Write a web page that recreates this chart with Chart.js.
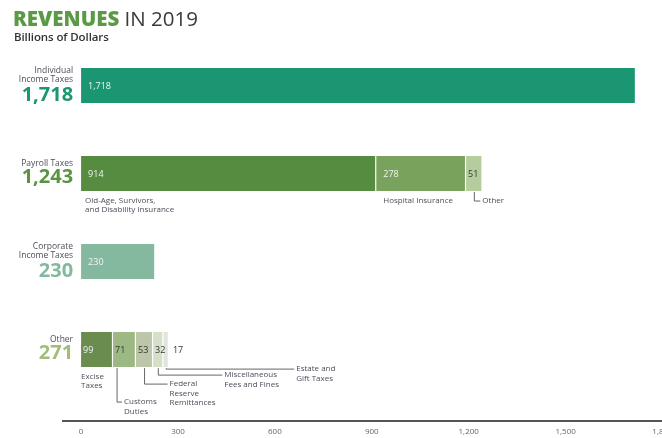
<!DOCTYPE html>
<html lang="en">

<head>
    <meta charset="UTF-8">
    <title>Revenues in 2019</title>
    <!-- Import Chart.js -->
    <script src="https://cdn.jsdelivr.net/npm/chart.js"></script>
    <style>
        body { margin: 0; overflow: hidden; background: #fff; font-family: 'Open Sans', sans-serif; }
        .title { position: absolute; left: 13px; top: 5px; line-height: 27px; font-size: 20.5px; color: #3a3a3a; white-space: nowrap; }
        .title b { color: #5a9a46; font-weight: 800; }
        .subtitle { position: absolute; left: 14px; top: 29px; line-height: 16px; font-size: 11.5px; font-weight: 600; color: #333; white-space: nowrap; letter-spacing: -0.1px; }
        #chart-wrap { position: absolute; left: 0; top: 0; width: 690px; height: 444px; }
    </style>
</head>

<body>
    <div id="chart-wrap">
        <canvas id="revenue-chart" width="690" height="444"></canvas>
    </div>
    <div class="title"><b>REVENUES</b> IN 2019</div>
    <div class="subtitle">Billions of Dollars</div>

    <script>
        // revenue groups, billions of dollars
        const groupLabels = [['Individual', 'Income Taxes'], ['Payroll Taxes'], ['Corporate', 'Income Taxes'], ['Other']];
        const groupTotals = [1718, 1243, 230, 271];

        const individualParts = [1718];
        const payrollParts = [914, 278, 51];
        const corporateParts = [230];
        const otherParts = [99, 71, 53, 32, 17];

        const payrollNames = [['Old-Age, Survivors,', 'and Disability Insurance'], ['Hospital Insurance'], ['Other']];
        const otherNames = [['Excise', 'Taxes'], ['Customs', 'Duties'], ['Federal', 'Reserve', 'Remittances'],
            ['Miscellaneous', 'Fees and Fines'], ['Estate and', 'Gift Taxes']];

        const xTicks = [0, 300, 600, 900, 1200, 1500, 1800];

        // colours
        const groupColors = ['#1b9672', '#5b9341', '#84b99f', '#a2bd78'];
        const partColors = [
            ['#1b9672'],
            ['#558c3f', '#79a25c', '#b3cd9d'],
            ['#84b99f'],
            ['#6a8d4f', '#9cb883', '#bcc6a8', '#d6e0c8', '#e2e5dc']
        ];
        const darkText = ['#b3cd9d', '#9cb883', '#bcc6a8', '#d6e0c8', '#e2e5dc'];

        // callout placement below the bars: dx = plain label offset, drop/run = leader line
        const payrollCallouts = [{ dx: 4 }, { dx: 7 }, { drop: 10, run: 6 }];
        const otherCallouts = [{ dx: 0 }, { drop: 35, run: 5, at: 4 }, { drop: 17, run: 23 }, { drop: 8, run: 64 }, { drop: 2, run: 128 }];

        const rows = [individualParts, payrollParts, corporateParts, otherParts];
        const points = [];
        const colors = [];
        rows.forEach((parts, r) => {
            let start = 0;
            parts.forEach((v, i) => {
                points.push({ y: r, x: [start, start + v], row: r, part: i, value: v });
                colors.push(partColors[r][i]);
                start += v;
            });
        });

        const fmt = v => v.toLocaleString('en-US');
        const smallGray = '#4d4d5a';

        function drawLines(ctx, lines, x, y, lh) {
            lines.forEach((t, i) => ctx.fillText(t, x, y + i * lh));
        }

        function drawCallouts(ctx, els, names, layout) {
            els.forEach((el, i) => {
                const c = layout[i];
                const left = Math.min(el.x, el.base);
                const bottom = el.y + el.height / 2;
                ctx.fillStyle = smallGray;
                if (c.dx !== undefined) {
                    drawLines(ctx, names[i], left + c.dx, bottom + 9.5, 9.5);
                    return;
                }
                const lx = c.at !== undefined ? left + c.at : (el.x + el.base) / 2;
                const ly = bottom + c.drop;
                ctx.beginPath();
                ctx.moveTo(lx, bottom + 1);
                ctx.lineTo(lx, ly);
                ctx.lineTo(lx + c.run, ly);
                ctx.stroke();
                drawLines(ctx, names[i], lx + c.run + 2, ly, 9.5);
            });
        }

        const revenueLabels = {
            id: 'revenueLabels',
            afterDatasetsDraw(chart) {
                const ctx = chart.ctx;
                const meta = chart.getDatasetMeta(0);
                const xs = chart.scales.x;
                const ys = chart.scales.y;
                ctx.save();
                ctx.textBaseline = 'middle';

                // values inside the segments
                ctx.font = "9px 'Open Sans', sans-serif";
                ctx.textAlign = 'left';
                meta.data.forEach((el, i) => {
                    const p = points[i];
                    const w = Math.abs(el.x - el.base);
                    const dark = darkText.includes(colors[i]);
                    ctx.fillStyle = dark ? '#333' : '#f4f4f4';
                    let tx = el.base + (w > 60 ? 7 : 2);
                    if (w < 8) tx = el.x + 4;
                    ctx.fillText(fmt(p.value), tx, el.y + 1);
                });

                // group names and totals to the left of each bar
                const rx = xs.getPixelForValue(0) - 8;
                ctx.textAlign = 'right';
                groupLabels.forEach((lines, r) => {
                    const cy = ys.getPixelForValue(r);
                    ctx.fillStyle = smallGray;
                    ctx.font = "8.5px 'Open Sans', sans-serif";
                    if (lines.length === 2) {
                        drawLines(ctx, lines, rx, cy - 15, 9.5);
                    } else {
                        ctx.fillText(lines[0], rx, cy - 10);
                    }
                    ctx.fillStyle = groupColors[r];
                    ctx.font = "bold 20px 'Open Sans', sans-serif";
                    ctx.fillText(fmt(groupTotals[r]), rx, cy + (lines.length === 2 ? 9.5 : 3.5));
                });

                // part names under the payroll and other bars
                ctx.textAlign = 'left';
                ctx.font = "8px 'Open Sans', sans-serif";
                ctx.strokeStyle = '#666';
                ctx.lineWidth = 1;
                const rowEls = r => meta.data.filter((el, i) => points[i].row === r);
                drawCallouts(ctx, rowEls(1), payrollNames, payrollCallouts);
                drawCallouts(ctx, rowEls(3), otherNames, otherCallouts);
                ctx.restore();
            }
        };

        const ctx = document.getElementById('revenue-chart').getContext('2d');
        Chart.defaults.font.family = "'Open Sans', sans-serif";
        new Chart(ctx, {
            type: 'bar',
            data: {
                datasets: [{
                    data: points,
                    backgroundColor: colors,
                    borderColor: '#ffffff',
                    borderWidth: { left: 0, top: 0, bottom: 0, right: 1.5 },
                    borderSkipped: false,
                    barThickness: 35
                }]
            },
            options: {
                responsive: false,
                animation: false,
                indexAxis: 'y',
                layout: { padding: { left: 63, right: 27.5, top: 41.5, bottom: 1.5 } },
                plugins: {
                    legend: { display: false },
                    tooltip: { enabled: false }
                },
                scales: {
                    x: {
                        type: 'linear',
                        min: -56,
                        max: 1800,
                        grid: { display: false, drawTicks: false },
                        border: { display: true, color: '#555', width: 2 },
                        ticks: {
                            padding: 6,
                            color: '#666',
                            font: { size: 8 },
                            autoSkip: false,
                            maxRotation: 0,
                            callback: v => fmt(v)
                        },
                        afterBuildTicks: s => { s.ticks = xTicks.map(v => ({ value: v })); }
                    },
                    y: { type: 'linear', reverse: true, offset: false, min: -0.5, max: 3.81, display: false }
                }
            },
            plugins: [revenueLabels]
        });
    </script>
</body>

</html>
